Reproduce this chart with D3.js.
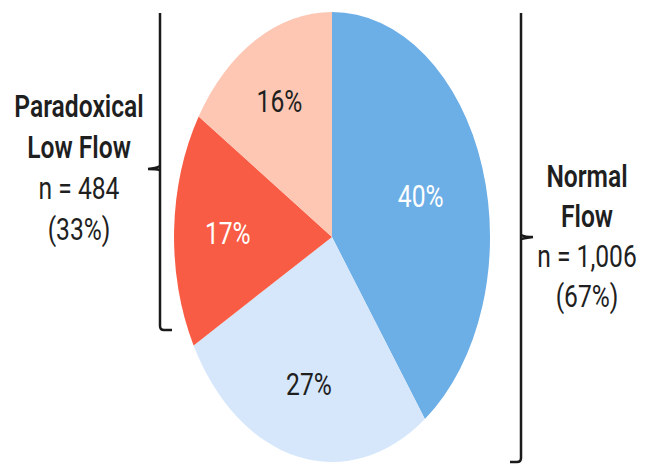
<!DOCTYPE html>
<html>
<head>
<meta charset="utf-8">
<script src="https://cdn.jsdelivr.net/npm/d3@7"></script>
<style>
  html, body { margin: 0; padding: 0; background: #fff; }
  svg { display: block; }
  text { font-family: "Roboto", "Liberation Sans", sans-serif; }
</style>
</head>
<body>
<svg id="chart" width="646" height="465"></svg>
<script>
// Slice shares (%), clockwise from 12 o'clock
const slices = ["Normal flow A", "Normal flow B", "Paradoxical low flow A", "Paradoxical low flow B"];
const shares = [40, 27, 17, 16];
const sliceColors = ["#6caee6", "#d6e7fb", "#f85c44", "#fdc7b4"];
const labelColors = ["#ffffff", "#1f1f1f", "#ffffff", "#1f1f1f"];
// distance of each percentage label from the centre, as a fraction of the radius
const labelRadii = [0.59, 0.67, 0.66, 0.69];

// Group annotations
const groupTitles = [["Paradoxical", "Low Flow"], ["Normal", "Flow"]];
const groupCounts = [484, 1006];
const groupShares = [33, 67];

const svg = d3.select("#chart");
const FS = 32;          // font size
const SX = 0.77;        // horizontal condensing of the type

// Elliptical pie: unit-circle coordinates mapped onto an ellipse
const cx = 332, cy = 237, rx = 158, ry = 225;
const xs = d3.scaleLinear().domain([-1, 1]).range([cx - rx, cx + rx]);
const ys = d3.scaleLinear().domain([-1, 1]).range([cy - ry, cy + ry]);

const pie = d3.pie().sort(null).value(d => d)(shares);
const arc = d3.arc().innerRadius(0).outerRadius(1);

const pieG = svg.append("g")
  .attr("transform", `translate(${xs(0)},${ys(0)}) scale(${xs(1) - xs(0)},${ys(1) - ys(0)})`);

pieG.selectAll("path")
  .data(pie)
  .join("path")
  .attr("d", arc)
  .attr("fill", (d, i) => sliceColors[i]);

svg.append("g").selectAll("text")
  .data(pie)
  .join("text")
  .attr("transform", (d, i) => {
    const c = d3.arc().innerRadius(labelRadii[i]).outerRadius(labelRadii[i]).centroid(d);
    return `translate(${xs(c[0])},${ys(c[1]) + FS * 0.355}) scale(${SX},1)`;
  })
  .attr("text-anchor", "middle")
  .attr("font-size", FS)
  .attr("fill", (d, i) => labelColors[i])
  .text(d => d.data + "%");

// Brackets
const bracket = svg.append("g")
  .attr("fill", "none")
  .attr("stroke", "#1a1a1a")
  .attr("stroke-width", 2.5)
  .attr("stroke-linejoin", "round");

// left bracket (opens toward the pie)
bracket.append("path")
  .attr("d", "M160,13 V326 Q160,330 164,330 H172");
bracket.append("path")
  .attr("d", "M160,166 Q156,168 148,169 M160,170 Q156,169 148,169");

// right bracket
bracket.append("path")
  .attr("d", "M521,13 V458 Q521,462 517,462 H510");
bracket.append("path")
  .attr("d", "M521,235 Q525,237 533,237 M521,239 Q525,238 533,237");

// Group text blocks
const fmt = d3.format(",");
function groupBlock(i, x, y0, step) {
  const g = svg.append("g").attr("fill", "#1f1f1f").attr("text-anchor", "middle");
  const lines = [
    { t: groupTitles[i][0], w: 600 },
    { t: groupTitles[i][1], w: 600 },
    { t: "n = " + fmt(groupCounts[i]), w: 400 },
    { t: "(" + groupShares[i] + "%)", w: 400 }
  ];
  lines.forEach((l, k) => {
    g.append("text")
      .attr("transform", `translate(${x},${y0 + k * step}) scale(${SX},1)`)
      .attr("font-size", FS)
      .attr("font-weight", l.w)
      .text(l.t);
  });
}
groupBlock(0, 79, 117, 41);
groupBlock(1, 587, 187, 40);
</script>
</body>
</html>
